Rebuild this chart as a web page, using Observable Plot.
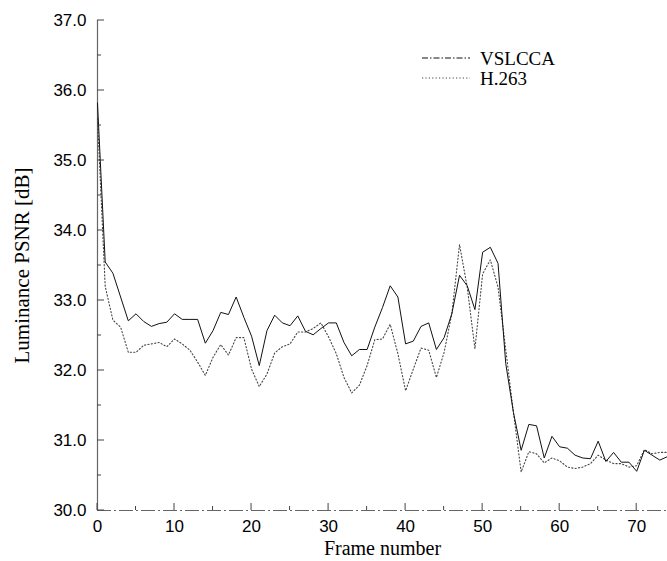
<!DOCTYPE html>
<html>
<head>
<meta charset="utf-8">
<script src="https://cdn.jsdelivr.net/npm/d3@7"></script>
<script src="https://cdn.jsdelivr.net/npm/@observablehq/plot@0.6"></script>
<style>
  html, body { margin: 0; padding: 0; background: #fff; }
</style>
</head>
<body>
<div id="chart"></div>
<script>
const frames = d3.range(0, 75);
const vslcca = [35.82, 33.55, 33.39, 33.05, 32.71, 32.81, 32.70, 32.63, 32.67, 32.69,
  32.81, 32.73, 32.73, 32.73, 32.39, 32.57, 32.83, 32.80, 33.05, 32.76,
  32.49, 32.07, 32.57, 32.79, 32.68, 32.64, 32.78, 32.56, 32.51, 32.60,
  32.68, 32.68, 32.40, 32.21, 32.30, 32.30, 32.62, 32.90, 33.21, 33.05,
  32.38, 32.42, 32.63, 32.68, 32.30, 32.47, 32.81, 33.36, 33.21, 32.87,
  33.69, 33.76, 33.53, 32.10, 31.40, 30.86, 31.23, 31.21, 30.75, 31.06,
  30.91, 30.89, 30.79, 30.75, 30.74, 30.99, 30.70, 30.83, 30.69, 30.69,
  30.56, 30.86, 30.79, 30.72, 30.77];
const h263 = [35.60, 33.20, 32.72, 32.62, 32.26, 32.26, 32.36, 32.38, 32.40, 32.34,
  32.45, 32.38, 32.29, 32.12, 31.93, 32.19, 32.37, 32.22, 32.47, 32.47,
  32.02, 31.77, 31.95, 32.25, 32.34, 32.38, 32.55, 32.55, 32.60, 32.68,
  32.48, 32.24, 31.90, 31.68, 31.79, 32.07, 32.44, 32.45, 32.66, 32.24,
  31.71, 32.02, 32.32, 32.29, 31.90, 32.26, 32.81, 33.80, 33.19, 32.31,
  33.38, 33.58, 33.19, 32.30, 31.40, 30.55, 30.84, 30.81, 30.68, 30.75,
  30.71, 30.62, 30.60, 30.62, 30.67, 30.79, 30.72, 30.67, 30.67, 30.62,
  30.64, 30.87, 30.81, 30.83, 30.83];
const seriesNames = ["VSLCCA", "H.263"];
const yTicks = [30, 31, 32, 33, 34, 35, 36, 37];
const yMinorTicks = d3.range(30, 37.01, 0.5);
const xTicks = [0, 10, 20, 30, 40, 50, 60, 70];
const xMinorTicks = [5, 15, 25, 35, 45, 55, 65];
const xLabel = "Frame number";
const yLabel = "Luminance PSNR [dB]";

const dataV = frames.map((f, i) => ({frame: f, psnr: vslcca[i]}));
const dataH = frames.map((f, i) => ({frame: f, psnr: h263[i]}));

const W = 667, H = 561;
const serif = "'Liberation Serif', 'DejaVu Serif', serif";
const sans = "'Liberation Sans', Arial, sans-serif";

const plot = Plot.plot({
  width: W,
  height: H,
  marginLeft: 97,
  marginRight: 0,
  marginTop: 20,
  marginBottom: 51,
  style: {fontFamily: sans, fontSize: "17px", color: "#000", background: "#fff", overflow: "visible"},
  x: {type: "linear", domain: [0, 74]},
  y: {type: "linear", domain: [30, 37]},
  marks: [
    Plot.axisX({ticks: xTicks, tickSize: 0, tickPadding: 9, label: null, tickFormat: d => String(d)}),
    Plot.axisY({ticks: yTicks, tickSize: 0, tickPadding: 11, label: null, tickFormat: d => d.toFixed(1)}),
    Plot.ruleX([0], {stroke: "#666", strokeWidth: 1.2}),
    Plot.ruleY([30], {stroke: "#666", strokeWidth: 1, strokeDasharray: "14,3,2,3"}),
    Plot.line(dataH, {x: "frame", y: "psnr", stroke: "#444", strokeWidth: 1.1, strokeDasharray: "1.2,2.2"}),
    Plot.line(dataV, {x: "frame", y: "psnr", stroke: "#111", strokeWidth: 1}),
    Plot.text([yLabel], {frameAnchor: "left", textAnchor: "middle", lineAnchor: "middle", dx: -75, rotate: -90, fontFamily: serif, fontSize: 21, fill: "#000"}),
    Plot.text([xLabel], {frameAnchor: "bottom", textAnchor: "middle", lineAnchor: "middle", dy: 38, fontFamily: serif, fontSize: 20, fill: "#000"})
  ]
});

document.getElementById("chart").appendChild(plot);

// inward ticks, positioned with the plot's own scales
const svg = d3.select(plot);
const xs = plot.scale("x"), ys = plot.scale("y");
const g = svg.append("g").attr("stroke", "#444").attr("stroke-width", 1);
yMinorTicks.forEach(v => {
  const isMajor = Math.abs(v - Math.round(v)) < 1e-6;
  g.append("line").attr("x1", xs.apply(0)).attr("x2", xs.apply(0) + (isMajor ? 7 : 4))
    .attr("y1", ys.apply(v)).attr("y2", ys.apply(v));
});
xTicks.concat(xMinorTicks).forEach(v => {
  const isMajor = v % 10 === 0;
  g.append("line").attr("x1", xs.apply(v)).attr("x2", xs.apply(v))
    .attr("y1", ys.apply(30)).attr("y2", ys.apply(30) - (isMajor ? 7 : 4));
});

// legend
const leg = svg.append("g");
const legendRows = [
  {name: seriesNames[0], dash: "6,2,1.5,2", stroke: "#111", y: 58},
  {name: seriesNames[1], dash: "1.2,2.2", stroke: "#444", y: 78}
];
legendRows.forEach(r => {
  leg.append("line").attr("x1", 422).attr("x2", 470).attr("y1", r.y).attr("y2", r.y)
    .attr("stroke", r.stroke).attr("stroke-width", 1).attr("stroke-dasharray", r.dash);
  leg.append("text").attr("x", 480).attr("y", r.y).attr("dy", "0.35em")
    .attr("text-anchor", "start")
    .attr("font-family", serif).attr("font-size", 19).attr("fill", "#000").text(r.name);
});
</script>
</body>
</html>
